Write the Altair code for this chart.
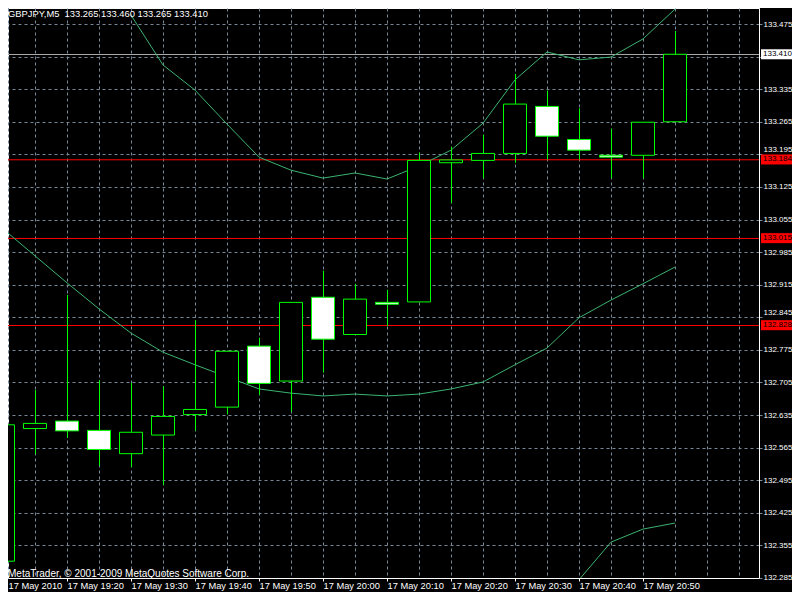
import json
import altair as alt
import pandas as pd

symbol = "GBPJPY,M5"
times = ["19:10", "19:15", "19:20", "19:25", "19:30", "19:35", "19:40", "19:45",
         "19:50", "19:55", "20:00", "20:05", "20:10", "20:15", "20:20", "20:25",
         "20:30", "20:35", "20:40", "20:45", "20:50", "20:55"]
opens = [132.321, 132.606, 132.622, 132.602, 132.552, 132.592, 132.636, 132.652,
         132.783, 132.708, 132.888, 132.808, 132.877, 132.878, 133.177, 133.182,
         133.197, 133.298, 133.227, 133.193, 133.193, 133.265]
highs = [132.659, 132.689, 132.893, 132.710, 132.704, 132.697, 132.839, 132.772,
         132.801, 132.877, 132.945, 132.917, 132.904, 133.199, 133.211, 133.237,
         133.368, 133.332, 133.294, 133.250, 133.264, 133.460]
lows = [132.304, 132.551, 132.586, 132.526, 132.523, 132.485, 132.601, 132.636,
        132.678, 132.642, 132.726, 132.808, 132.826, 132.878, 133.090, 133.144,
        133.177, 133.184, 133.184, 133.144, 133.144, 133.265]
closes = [132.614, 132.617, 132.601, 132.561, 132.598, 132.632, 132.647, 132.772,
          132.703, 132.877, 132.798, 132.884, 132.873, 133.182, 133.183, 133.197,
          133.303, 133.234, 133.204, 133.189, 133.264, 133.410]

upper_band = [None, None, None, None, 133.494, 133.387, 133.333, 133.260, 133.189,
              133.161, 133.144, 133.155, 133.142, 133.170, 133.204, 133.262, 133.355,
              133.415, 133.398, 133.404, 133.443, 133.507]
middle_band = [133.035, 132.977, 132.919, 132.863, 132.811, 132.770, 132.743, 132.717,
               132.691, 132.682, 132.676, 132.680, 132.676, 132.680, 132.691, 132.706,
               132.743, 132.779, 132.844, 132.882, 132.917, 132.953]
lower_band = [None] * 18 + [132.281, 132.362, 132.390, 132.403]

y_ticks = [133.475, 133.405, 133.335, 133.265, 133.195, 133.125, 133.055, 132.985,
           132.915, 132.845, 132.775, 132.705, 132.635, 132.565, 132.495, 132.425,
           132.355, 132.285]
x_labels = ["17 May 2010", "17 May 19:20", "17 May 19:30", "17 May 19:40", "17 May 19:50",
            "17 May 20:00", "17 May 20:10", "17 May 20:20", "17 May 20:30", "17 May 20:40",
            "17 May 20:50"]

level_prices = [133.184, 133.015, 132.828]
bid_price = 133.410
copyright_text = "MetaTrader, \u00a9 2001-2009 MetaQuotes Software Corp."

# ---------------------------------------------------------------- data frames
n = len(times)
candles = pd.DataFrame({
    "idx": list(range(n)), "time": times, "open": opens, "high": highs,
    "low": lows, "close": closes,
})
candles["bull"] = candles["close"] >= candles["open"]

rows = []
for name, series in [("upper", upper_band), ("middle", middle_band), ("lower", lower_band)]:
    for i, v in enumerate(series):
        if v is not None:
            rows.append({"idx": i, "value": v, "band": name})
bands = pd.DataFrame(rows)

levels = pd.DataFrame({"price": level_prices})
bid = pd.DataFrame({"price": [bid_price]})
tags = pd.DataFrame({
    "price": [bid_price] + level_prices,
    "fill": ["white"] + ["#FF0000"] * len(level_prices),
})
tags["label"] = tags["price"].map(lambda v: f"{v:.3f}")

header = pd.DataFrame({"text": [f"{symbol}\u00a0\u00a0{opens[-1]:.3f} {highs[-1]:.3f} "
                                f"{lows[-1]:.3f} {closes[-1]:.3f}"]})
footer = pd.DataFrame({"text": [copyright_text]})

# ---------------------------------------------------------------- scales/axes
# whole page must stay inside 800x600: svg 784 x 584
W, H = 751, 570
PAD_R, PAD_B = 784 - W, 584 - H
X0, X1 = 0.15625, 23.625          # 32 px per 5-minute candle
PX_PER_UNIT = 465.5               # pixels per 1.000 JPY
Y1 = 133.5094
Y0 = Y1 - H / PX_PER_UNIT
FONT = "Liberation Sans"
GRID = "#778899"
TAG_HALF = 5 / PX_PER_UNIT

xscale = alt.Scale(domain=[X0, X1], nice=False, zero=False, padding=0)
yscale = alt.Scale(domain=[Y0, Y1], nice=False, zero=False, padding=0)

L = json.dumps(x_labels)
x_values = [X0] + list(range(1, 24))
tick_test = "datum.value % 2 == 0 && datum.value <= 20"
label_expr = f"datum.value < 1 ? {L}[0] : (({tick_test}) ? {L}[datum.value / 2] : '')"
# the label under the bid price tag is covered in the reference
y_label_expr = f"abs(datum.value - {bid_price}) < 0.01 ? '' : format(datum.value, '.3f')"
# labels that sit next to a level tag are nudged upward, as the terminal does
near_tag = " || ".join(f"(datum.value > {p} && datum.value - {p} < 0.02)" for p in level_prices)

x_axis = alt.Axis(
    values=x_values, tickCount=len(x_values) + 10, labelExpr=label_expr, labelAlign="left",
    labelFlush=False, labelOverlap=False, labelColor="white", labelFont=FONT,
    labelFontSize=9.3, labelPadding=0.5, tickColor="white", tickSize=3,
    tickOpacity={"condition": {"test": tick_test, "value": 1}, "value": 0},
    domainColor="white", grid=True, gridColor=GRID, gridDash=[3, 3], title=None,
)
y_axis = alt.Axis(
    orient="right", values=y_ticks, tickCount=len(y_ticks) + 10, labelExpr=y_label_expr,
    labelColor="white", labelFont=FONT,
    labelFontSize=8, labelPadding=1, tickColor=GRID, tickSize=3, domainColor="white",
    labelOffset={"condition": {"test": near_tag, "value": -5}, "value": 0},
    grid=True, gridColor=GRID, gridDash=[3, 3], title=None, labelOverlap=False,
    labelFlush=False,
)


def X():
    return alt.X("idx:Q", scale=xscale, title=None)


def Y(field):
    return alt.Y(field, scale=yscale, title=None)


base_axes = alt.Chart(candles).mark_rule(opacity=0).encode(
    x=alt.X("idx:Q", scale=xscale, axis=x_axis),
    y=alt.Y("low:Q", scale=yscale, axis=y_axis),
)

level_rules = alt.Chart(levels).mark_rule(color="#FF0000", strokeWidth=1, yOffset=0.3).encode(
    y=Y("price:Q"))
bid_rule = alt.Chart(bid).mark_rule(color="#A8A8A8", strokeWidth=1, yOffset=0.23).encode(
    y=Y("price:Q"))

band_lines = alt.Chart(bands).mark_line(color="#3CB371", strokeWidth=1, clip=True).encode(
    x=X(), y=Y("value:Q"), detail="band:N")

wicks = alt.Chart(candles).mark_rule(color="#00FF00", strokeWidth=1, clip=True, xOffset=0.5).encode(
    x=X(), y=Y("low:Q"), y2="high:Q")

bodies = alt.Chart(candles).mark_bar(size=23, stroke="#00FF00", strokeWidth=1, clip=True,
                                     cornerRadius=0).encode(
    x=X(), y=Y("open:Q"), y2="close:Q",
    fill=alt.condition("datum.bull", alt.value("black"), alt.value("white")),
)

tag_boxes = alt.Chart(tags).transform_calculate(
    top=f"datum.price + {TAG_HALF}", bot=f"datum.price - {TAG_HALF}"
).mark_rect().encode(
    x=alt.value(W + 2), x2=alt.value(W + PAD_R),
    y=Y("top:Q"), y2="bot:Q",
    fill=alt.Fill("fill:N", scale=None),
)
tag_text = alt.Chart(tags).mark_text(align="left", baseline="middle", font=FONT,
                                     fontSize=8, color="black").encode(
    x=alt.value(W + 4), y=Y("price:Q"), text="label:N")

header_text = alt.Chart(header).mark_text(align="left", baseline="top", font=FONT,
                                          fontSize=9.4, color="white").encode(
    x=alt.value(0), y=alt.value(2), text="text:N")
footer_text = alt.Chart(footer).mark_text(align="left", baseline="middle", font=FONT,
                                          fontSize=10, color="white").encode(
    x=alt.value(0), y=alt.value(H - 4), text="text:N")

chart = alt.layer(
    base_axes, level_rules, bid_rule, band_lines, wicks, bodies,
    tag_boxes, tag_text, header_text, footer_text,
).properties(
    width=W, height=H,
    autosize=alt.AutoSizeParams(type="none"),
    padding={"left": 0, "top": 0, "right": PAD_R, "bottom": PAD_B},
).configure(background="black").configure_view(stroke="white", strokeWidth=1, fill="black")

chart.save("out.html", embed_options={"renderer": "svg", "actions": False})
